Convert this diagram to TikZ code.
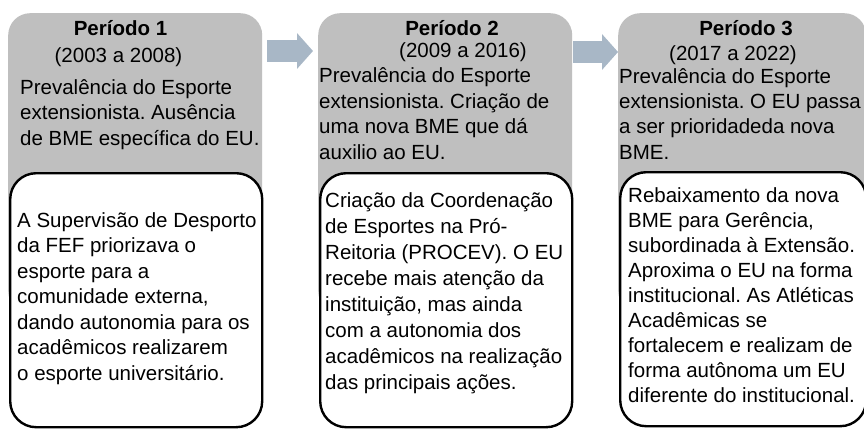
\documentclass[tikz,border=0pt]{standalone}
\usepackage{fontspec}
\setmainfont{Liberation Sans}
\usetikzlibrary{arrows.meta}
\definecolor{panelgray}{RGB}{191,191,191}
\definecolor{arrowblue}{RGB}{168,183,198}
\frenchspacing
\newcommand{\mylines}[1]{\parbox[t]{260pt}{\raggedright\frenchspacing #1}}
\begin{document}
\begin{tikzpicture}[x=1pt,y=-1pt,
  panel/.style={fill=panelgray, rounded corners=22pt, minimum height=300pt, inner sep=0pt, anchor=north west},
  inbox/.style={draw=black, line width=2.4pt, fill=white, rounded corners=26pt, minimum height=254pt, inner sep=0pt, anchor=north west},
  txt/.style={font=\fontsize{20.5}{25.5}\selectfont, inner sep=0pt, anchor=base west},
  ttl/.style={font=\bfseries\fontsize{20.5}{25.5}\selectfont, inner sep=0pt, anchor=base},
  yrs/.style={font=\fontsize{20.5}{25.5}\selectfont, inner sep=0pt, anchor=base},
  conn/.style={arrowblue, line width=22pt, -{Triangle[length=16pt,width=35pt]}}]
\useasboundingbox (0,0) rectangle (864,428);
\clip (0,0) rectangle (864,428);
\fill[white] (0,0) rectangle (864,428);

% panels
\node[panel, minimum width=254pt] (p1) at (8,13) {};
\node[panel, minimum width=254pt] (p2) at (318,13) {};
\node[panel, minimum width=248pt] (p3) at (618,13) {};

\node[inbox, minimum width=252pt] (b1) at (9,172) {};
\node[inbox, minimum width=252pt] (b2) at (319,172) {};
\node[inbox, minimum width=246pt] (b3) at (619,171) {};

% connectors
\draw[conn] ([xshift=5pt,yshift=-38pt]p1.north east) -- ([xshift=-5pt,yshift=-38pt]p2.north west);
\draw[conn] ([xshift=1pt,yshift=-39pt]p2.north east) -- ([xshift=0pt,yshift=-39pt]p3.north west);

% panel 1 text
\node[ttl] (h1) at (120.5,36) {Período 1};
\node[yrs] (y1) at (118.5,63) {(2003 a 2008)};
\node[txt] (g1) at (20,94) {\mylines{Prevalência do Esporte\\extensionista. Ausência\\de BME específica do EU.}};
\node[txt] (w1) at (17,227) {\mylines{A Supervisão de Desporto\\da FEF priorizava o\\esporte para a\\comunidade externa,\\dando autonomia para os\\acadêmicos realizarem\\o esporte universitário.}};

% panel 2 text
\node[ttl] (h2) at (452,36) {Período 2};
\node[yrs] (y2) at (463,58) {(2009 a 2016)};
\node[txt] (g2) at (319,82.5) {\mylines{Prevalência do Esporte\\extensionista. Criação de\\uma nova BME que dá\\auxilio ao EU.}};
\node[txt, font=\fontsize{20.5}{26}\selectfont] (w2) at (325,207) {\mylines{Criação da Coordenação\\de Esportes na Pró-\\Reitoria (PROCEV). O EU\\recebe mais atenção da\\instituição, mas ainda\\com a autonomia dos\\acadêmicos na realização\\das principais ações.}};

% panel 3 text
\node[ttl] (h3) at (746,36) {Período 3};
\node[yrs] (y3) at (733,60) {(2017 a 2022)};
\node[txt] (g3) at (619,83) {\mylines{Prevalência do Esporte\\extensionista. O EU passa\\a ser prioridadeda nova\\BME.}};
\node[txt, font=\fontsize{20.5}{25}\selectfont] (w3) at (628,202) {\mylines{Rebaixamento da nova\\BME para Gerência,\\subordinada à Extensão.\\Aproxima o EU na forma\\institucional. As Atléticas\\Acadêmicas se\\fortalecem e realizam de\\forma autônoma um EU\\diferente do institucional.}};
\end{tikzpicture}
\end{document}
